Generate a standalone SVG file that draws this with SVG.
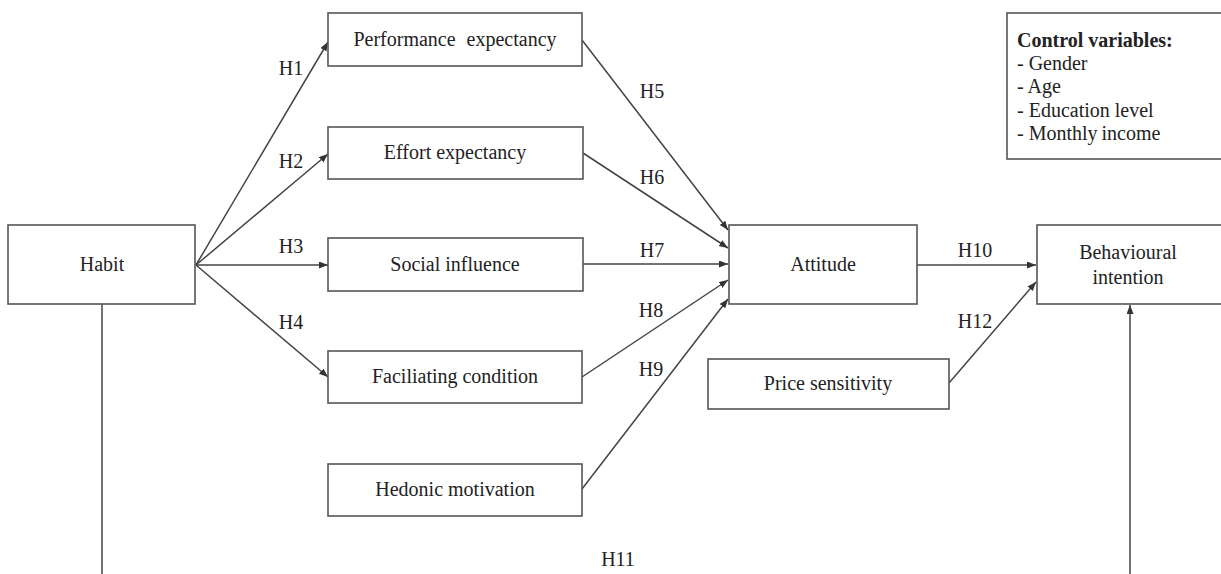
<svg xmlns="http://www.w3.org/2000/svg" width="1221" height="574" viewBox="0 0 1221 574">
  <style>
    .box { fill: #ffffff; stroke: #555555; stroke-width: 1.6; }
    .lbl { font-family: "Liberation Serif", "Times New Roman", serif; font-size: 20px; fill: #222222; text-anchor: middle; }
    .hyp { font-family: "Liberation Serif", "Times New Roman", serif; font-size: 20px; fill: #222222; text-anchor: middle; }
    .ctl { font-family: "Liberation Serif", "Times New Roman", serif; font-size: 20px; fill: #222222; }
    .ctl-title { font-weight: bold; }
    .edge { fill: none; stroke: #444444; stroke-width: 1.5; }
    .arrow { marker-end: url(#head); }
  </style>
  <defs>
    <marker id="head" markerUnits="userSpaceOnUse" markerWidth="10" markerHeight="8" refX="9" refY="3.5" orient="auto">
      <path d="M0,0 L9,3.5 L0,7 z" fill="#333333"/>
    </marker>
  </defs>
  <rect x="0" y="0" width="1221" height="574" fill="#ffffff"/>

  <!-- connectors -->
  <g id="connectors">
    <line class="edge arrow" x1="196" y1="265" x2="328" y2="42"/>
    <line class="edge arrow" x1="196" y1="265" x2="328" y2="154"/>
    <line class="edge arrow" x1="196" y1="265" x2="328" y2="265"/>
    <line class="edge arrow" x1="196" y1="265" x2="328" y2="377"/>
    <line class="edge arrow" x1="582" y1="40" x2="728" y2="230"/>
    <line class="edge arrow" x1="583" y1="153" x2="728" y2="248"/>
    <line class="edge arrow" x1="583" y1="264" x2="728" y2="264"/>
    <line class="edge arrow" x1="582" y1="377" x2="728" y2="280"/>
    <line class="edge arrow" x1="582" y1="489" x2="728" y2="299"/>
    <line class="edge arrow" x1="917" y1="265" x2="1036" y2="265"/>
    <line class="edge arrow" x1="949" y1="383" x2="1036" y2="282"/>
    <!-- habit to behavioural intention, running below the canvas -->
    <line class="edge" x1="102" y1="304" x2="102" y2="580"/>
    <line class="edge arrow" x1="1130" y1="580" x2="1130" y2="305"/>

    <text class="hyp" x="291" y="75">H1</text>
    <text class="hyp" x="291" y="168">H2</text>
    <text class="hyp" x="291" y="253">H3</text>
    <text class="hyp" x="291" y="329">H4</text>
    <text class="hyp" x="652" y="98">H5</text>
    <text class="hyp" x="652" y="184">H6</text>
    <text class="hyp" x="652" y="257">H7</text>
    <text class="hyp" x="651" y="317">H8</text>
    <text class="hyp" x="651" y="376">H9</text>
    <text class="hyp" x="975" y="257">H10</text>
    <text class="hyp" x="618" y="566">H11</text>
    <text class="hyp" x="975" y="328">H12</text>
  </g>

  <g id="habit">
    <rect class="box" x="8" y="225" width="187" height="79"/>
    <text class="lbl" x="102" y="271">Habit</text>
  </g>
  <g id="performance-expectancy">
    <rect class="box" x="328" y="13" width="254" height="53"/>
    <text class="lbl" x="455" y="46" word-spacing="6">Performance expectancy</text>
  </g>
  <g id="effort-expectancy">
    <rect class="box" x="328" y="127" width="255" height="52"/>
    <text class="lbl" x="455" y="159">Effort expectancy</text>
  </g>
  <g id="social-influence">
    <rect class="box" x="328" y="238" width="255" height="53"/>
    <text class="lbl" x="455" y="271">Social influence</text>
  </g>
  <g id="facilitating-condition">
    <rect class="box" x="328" y="351" width="254" height="52"/>
    <text class="lbl" x="455" y="383">Faciliating condition</text>
  </g>
  <g id="hedonic-motivation">
    <rect class="box" x="328" y="464" width="254" height="52"/>
    <text class="lbl" x="455" y="496">Hedonic motivation</text>
  </g>
  <g id="attitude">
    <rect class="box" x="729" y="225" width="188" height="79"/>
    <text class="lbl" x="823" y="271">Attitude</text>
  </g>
  <g id="price-sensitivity">
    <rect class="box" x="708" y="359" width="241" height="50"/>
    <text class="lbl" x="828" y="390">Price sensitivity</text>
  </g>
  <g id="behavioural-intention">
    <rect class="box" x="1037" y="225" width="200" height="79"/>
    <text class="lbl" x="1128" y="259">Behavioural</text>
    <text class="lbl" x="1128" y="284">intention</text>
  </g>
  <g id="control-variables">
    <rect class="box" x="1007" y="13" width="230" height="146"/>
    <text class="ctl ctl-title" x="1017" y="47">Control variables:</text>
    <text class="ctl" x="1017" y="70">- Gender</text>
    <text class="ctl" x="1017" y="93">- Age</text>
    <text class="ctl" x="1017" y="117">- Education level</text>
    <text class="ctl" x="1017" y="140">- Monthly<tspan dx="4">income</tspan></text>
  </g>
</svg>
